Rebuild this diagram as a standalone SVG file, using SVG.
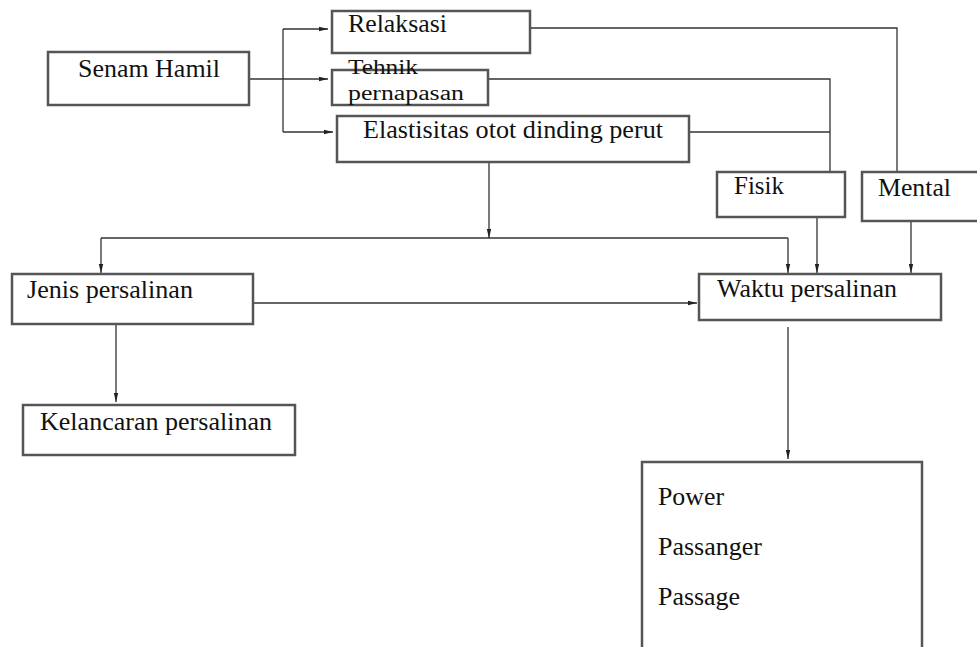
<svg xmlns="http://www.w3.org/2000/svg" width="977" height="647" viewBox="0 0 977 647">
<defs>
<style>
.box{fill:#fff;stroke:#555;stroke-width:2.5}
.t{font-family:"Liberation Serif","Times New Roman",serif;font-size:26px;fill:#111}
.s{font-size:20px}
.c{fill:none;stroke:#333;stroke-width:1.3}
</style>
<marker id="ah" markerUnits="userSpaceOnUse" markerWidth="10" markerHeight="6" refX="9" refY="3" orient="auto">
<path d="M0,0.8 L9,3 L0,5.2 Z" fill="#222"/>
</marker>
</defs>
<rect width="977" height="647" fill="#fff"/>
<g id="connectors">
<path class="c" d="M249,79 H328" marker-end="url(#ah)"/>
<path class="c" d="M283,29 V132"/>
<path class="c" d="M283,29 H328" marker-end="url(#ah)"/>
<path class="c" d="M283,132 H333" marker-end="url(#ah)"/>
<path class="c" d="M530,28 H897 V172"/>
<path class="c" d="M488,79 H830 V172"/>
<path class="c" d="M689,132 H830"/>
<path class="c" d="M489,162 V238" marker-end="url(#ah)"/>
<path class="c" d="M101,238 H788"/>
<path class="c" d="M101,238 V273" marker-end="url(#ah)"/>
<path class="c" d="M788,238 V273" marker-end="url(#ah)"/>
<path class="c" d="M817,217 V273" marker-end="url(#ah)"/>
<path class="c" d="M911,221 V273" marker-end="url(#ah)"/>
<path class="c" d="M253,303 H697" marker-end="url(#ah)"/>
<path class="c" d="M116,324 V402" marker-end="url(#ah)"/>
<path class="c" d="M788,327 V459" marker-end="url(#ah)"/>
</g>
<g id="senam-hamil"><rect class="box" x="48" y="52" width="201" height="53"/><text class="t" x="78" y="77" textLength="142" lengthAdjust="spacingAndGlyphs">Senam Hamil</text></g>
<g id="relaksasi"><rect class="box" x="332" y="11" width="198" height="42"/><text class="t" x="348" y="32" textLength="99" lengthAdjust="spacingAndGlyphs">Relaksasi</text></g>
<g id="tehnik"><rect class="box" x="332" y="70" width="156" height="35"/><text class="t s" x="348" y="74" textLength="70" lengthAdjust="spacingAndGlyphs">Tehnik</text><text class="t s" x="348" y="100" textLength="116" lengthAdjust="spacingAndGlyphs">pernapasan</text></g>
<g id="elastisitas"><rect class="box" x="337" y="116" width="352" height="46"/><text class="t" x="363" y="138" textLength="300" lengthAdjust="spacingAndGlyphs">Elastisitas otot dinding perut</text></g>
<g id="fisik"><rect class="box" x="717" y="172" width="128" height="45"/><text class="t" x="734" y="194" textLength="50" lengthAdjust="spacingAndGlyphs">Fisik</text></g>
<g id="mental"><rect class="box" x="862" y="172" width="130" height="49"/><text class="t" x="878" y="196" textLength="73" lengthAdjust="spacingAndGlyphs">Mental</text></g>
<g id="jenis"><rect class="box" x="12" y="274" width="241" height="50"/><text class="t" x="27" y="298" textLength="166" lengthAdjust="spacingAndGlyphs">Jenis persalinan</text></g>
<g id="waktu"><rect class="box" x="699" y="274" width="242" height="46"/><text class="t" x="717" y="297" textLength="180" lengthAdjust="spacingAndGlyphs">Waktu persalinan</text></g>
<g id="kelancaran"><rect class="box" x="23" y="405" width="272" height="50"/><text class="t" x="40" y="430" textLength="232" lengthAdjust="spacingAndGlyphs">Kelancaran persalinan</text></g>
<g id="faktor"><rect class="box" x="642" y="462" width="280" height="200"/><text class="t" x="658" y="505" textLength="66" lengthAdjust="spacingAndGlyphs">Power</text><text class="t" x="658" y="555" textLength="104" lengthAdjust="spacingAndGlyphs">Passanger</text><text class="t" x="658" y="605" textLength="82" lengthAdjust="spacingAndGlyphs">Passage</text></g>
</svg>
